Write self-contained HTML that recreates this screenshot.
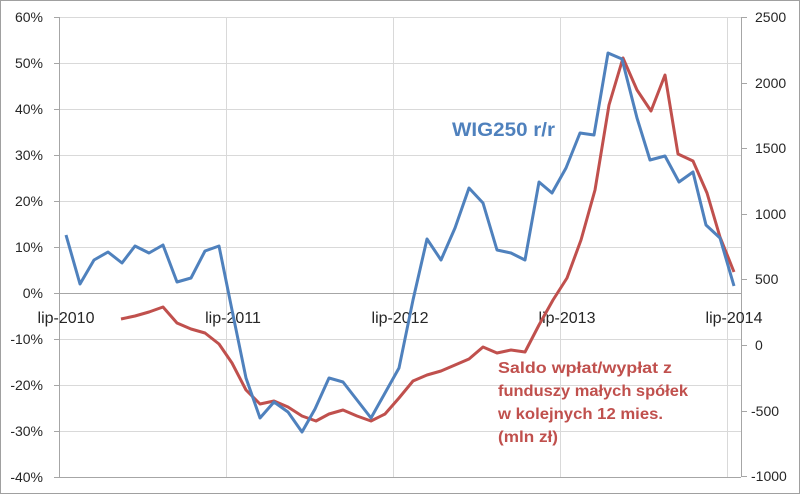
<!DOCTYPE html>
<html><head><style>
html,body{margin:0;padding:0;background:#fff}
svg{display:block}
text{font-family:"Liberation Sans",sans-serif}
</style></head><body>
<svg width="800" height="494" viewBox="0 0 800 494">
<rect x="0.5" y="0.5" width="799" height="493" fill="#fff" stroke="#a0a0a0"/>
<g stroke="#d9d9d9" stroke-width="1">
<line x1="60" y1="17.5" x2="741" y2="17.5"/><line x1="60" y1="63.5" x2="741" y2="63.5"/>
<line x1="60" y1="109.5" x2="741" y2="109.5"/><line x1="60" y1="155.5" x2="741" y2="155.5"/>
<line x1="60" y1="201.5" x2="741" y2="201.5"/><line x1="60" y1="247.5" x2="741" y2="247.5"/>
<line x1="60" y1="339.5" x2="741" y2="339.5"/>
<line x1="60" y1="385.5" x2="741" y2="385.5"/><line x1="60" y1="431.5" x2="741" y2="431.5"/>
<line x1="226.5" y1="17" x2="226.5" y2="477"/><line x1="393.5" y1="17" x2="393.5" y2="477"/>
<line x1="560.5" y1="17" x2="560.5" y2="477"/><line x1="727.5" y1="17" x2="727.5" y2="477"/>
</g>
<g stroke="#a6a6a6" stroke-width="1">
<line x1="60" y1="293.5" x2="741" y2="293.5"/>
<line x1="59.5" y1="17" x2="59.5" y2="477"/><line x1="741.5" y1="17" x2="741.5" y2="477"/>
<line x1="60" y1="477.5" x2="741" y2="477.5"/>
<path d="M54 17.5h6M54 63.5h6M54 109.5h6M54 155.5h6M54 201.5h6M54 247.5h6M54 293.5h6M54 339.5h6M54 385.5h6M54 431.5h6M54 477.5h6"/>
<path d="M741 17.5h6M741 83.5h6M741 148.5h6M741 214.5h6M741 279.5h6M741 345.5h6M741 411.5h6M741 476.5h6"/>
</g>
<g font-size="14" fill="#262626" text-anchor="end">
<text x="43" y="22">60%</text><text x="43" y="68">50%</text><text x="43" y="114">40%</text>
<text x="43" y="160">30%</text><text x="43" y="206">20%</text><text x="43" y="252">10%</text>
<text x="43" y="298">0%</text><text x="43" y="344">-10%</text><text x="43" y="390">-20%</text>
<text x="43" y="436">-30%</text><text x="43" y="482">-40%</text>
</g>
<g font-size="14" fill="#262626">
<text x="755" y="22">2500</text><text x="755" y="88">2000</text><text x="755" y="153">1500</text>
<text x="755" y="219">1000</text><text x="755" y="284">500</text><text x="755" y="350">0</text>
<text x="751" y="416">-500</text><text x="751" y="481">-1000</text>
</g>
<g font-size="16" fill="#262626" text-anchor="middle">
<text x="66" y="323">lip-2010</text><text x="233" y="323">lip-2011</text><text x="400" y="323">lip-2012</text>
<text x="567" y="323">lip-2013</text><text x="734" y="323">lip-2014</text>
</g>
<polyline fill="none" stroke="#c0504d" stroke-width="3" stroke-linejoin="round" points="121,319 135,316 149,312 163,307 177,323 191,329 205,333 219,344 232,363 246,390 260,404 274,401 288,407 302,416 316,421 329,414 343,410 357,416 371,421 385,414 399,398 413,381 427,375 441,371 455,365 469,359 483,347 497,353 511,350 525,352 539,325 553,300 567,278 581,240 595,190 609,105 623,58 637,90 651,111 665,75 678,154 693,161 707,193 720,237 734,272"/>
<polyline fill="none" stroke="#4f81bd" stroke-width="3" stroke-linejoin="round" points="66,235 80,284 94,260 108,252 122,263 135,246 149,253 163,245 177,282 191,278 205,251 219,246 232,310 246,378 260,418 274,402 288,412 302,432 315,409 329,378 343,382 357,400 371,418 385,393 399,368 413,300 427,239 441,260 455,228 469,188 483,203 497,250 511,253 525,260 539,182 552,193 566,168 580,133 594,135 608,53 622,59 637,118 650,160 665,156 679,182 693,172 706,225 720,238 734,286"/>
<text x="452" y="136" font-size="19" font-weight="bold" fill="#4f81bd" textLength="103" lengthAdjust="spacingAndGlyphs">WIG250 r/r</text>
<g font-size="16" font-weight="bold" fill="#c0504d" lengthAdjust="spacingAndGlyphs">
<text x="498" y="373" textLength="174" lengthAdjust="spacingAndGlyphs">Saldo wpłat/wypłat z</text>
<text x="498" y="396" textLength="190" lengthAdjust="spacingAndGlyphs">funduszy małych spółek</text>
<text x="498" y="419" textLength="165" lengthAdjust="spacingAndGlyphs">w kolejnych 12 mies.</text>
<text x="498" y="442" textLength="60" lengthAdjust="spacingAndGlyphs">(mln zł)</text>
</g>
</svg>
</body></html>
